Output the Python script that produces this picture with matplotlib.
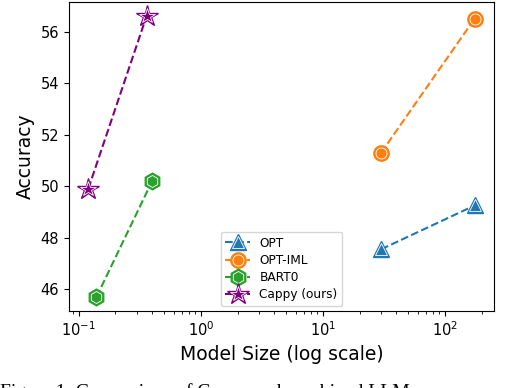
import matplotlib
matplotlib.use('Agg')
import matplotlib.pyplot as plt
from matplotlib.legend_handler import HandlerTuple

# model size (billions of params, log scale) and accuracy
opt_size = [30, 175]
opt_acc = [47.55, 49.25]
optiml_size = [30, 175]
optiml_acc = [51.3, 56.5]
bart0_size = [0.14, 0.4]
bart0_acc = [45.7, 50.2]
cappy_size = [0.12, 0.36]
cappy_acc = [49.9, 56.6]

series = [
    ('OPT', opt_size, opt_acc, 'tab:blue', '^', 12),
    ('OPT-IML', optiml_size, optiml_acc, 'tab:orange', 'o', 11),
    ('BART0', bart0_size, bart0_acc, 'tab:green', 'h', 12),
    ('Cappy (ours)', cappy_size, cappy_acc, 'purple', '*', 16),
]

fig = plt.figure(figsize=(5.16, 3.88), dpi=100)
ax = fig.add_axes([69 / 516, 1 - 311 / 388, (494 - 69) / 516, (311 - 2) / 388])

handles = []
labels = []
for name, xs, ys, col, mk, ms in series:
    line, = ax.plot(xs, ys, linestyle='--', color=col, linewidth=1.5,
                    marker=mk, markersize=ms, markerfacecolor=col,
                    markeredgecolor=col)
    inner, = ax.plot(xs, ys, linestyle='none', marker=mk, markersize=ms * 0.72,
                     markerfacecolor=col, markeredgecolor='white',
                     markeredgewidth=0.6)
    handles.append((line, inner))
    labels.append(name)

ax.set_xscale('log')
ax.tick_params(labelsize=10.5)
ax.set_xlabel('Model Size (log scale)', fontsize=13.5)
ax.set_ylabel('Accuracy', fontsize=13.5)

ax.legend(handles, labels, handler_map={tuple: HandlerTuple(ndivide=1)},
          loc='lower center', fontsize=8.7, labelspacing=0.35,
          borderaxespad=0.4)

fig.text(0.0, (388 - 383) / 388, 'Figure 1: Comparison of Cappy and combined LLMs',
         family='Liberation Serif', fontsize=14, va='top', ha='left')

fig.savefig('out.png', dpi=100)
